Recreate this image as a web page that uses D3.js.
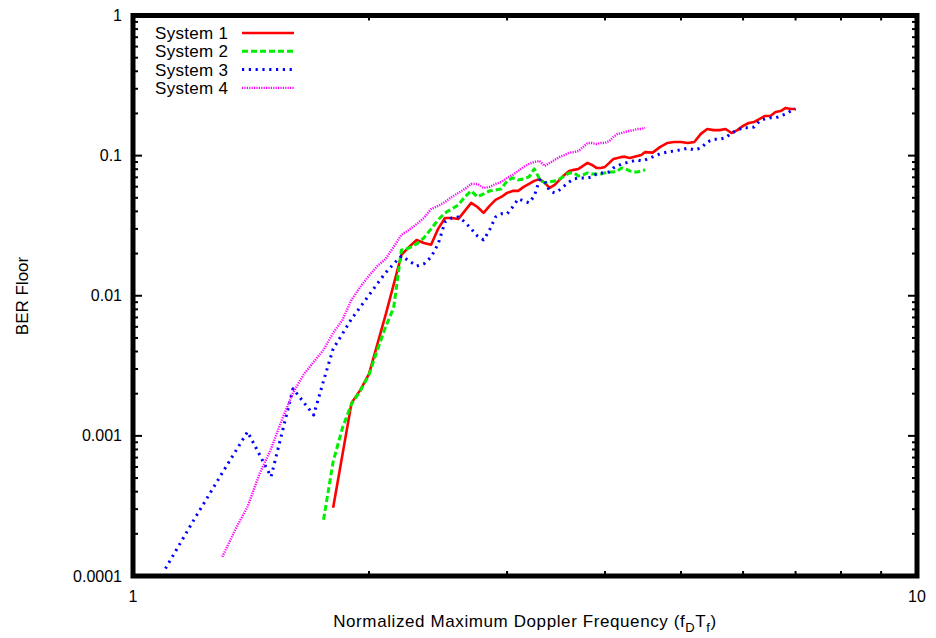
<!DOCTYPE html>
<html>
<head>
<meta charset="utf-8">
<script src="https://cdn.jsdelivr.net/npm/d3@7/dist/d3.min.js"></script>
<style>
  html, body { margin: 0; padding: 0; background: #fff; }
  svg { display: block; font-family: "Liberation Sans", Arial, sans-serif; }
</style>
</head>
<body>
<svg id="chart" width="936" height="638"></svg>
<script>
// BER floor versus normalized maximum Doppler frequency for four systems.
const xTickLabels = ["1", "10"];
const yTickLabels = ["1", "0.1", "0.01", "0.001", "0.0001"];
const seriesNames = ["System 1", "System 2", "System 3", "System 4"];

const sys1X = [1.8, 1.9, 1.95, 2.0, 2.1, 2.15, 2.2, 2.25, 2.3, 2.35, 2.4, 2.45, 2.5, 2.55, 2.6, 2.65, 2.7, 2.75, 2.8, 2.85, 2.9, 2.95, 3.0, 3.05, 3.1, 3.15, 3.2, 3.25, 3.3, 3.35, 3.4, 3.45, 3.5, 3.55, 3.6, 3.65, 3.7, 3.75, 3.8, 3.85, 3.9, 3.95, 4.0, 4.05, 4.1, 4.15, 4.2, 4.25, 4.3, 4.35, 4.4, 4.45, 4.5, 4.6, 4.7, 4.8, 4.9, 5.0, 5.1, 5.2, 5.3, 5.4, 5.5, 5.6, 5.7, 5.8, 5.9, 6.0, 6.1, 6.2, 6.3, 6.4, 6.5, 6.6, 6.7, 6.8, 6.9, 7.0];
const sys1Y = [0.000307, 0.00172, 0.00213, 0.00277, 0.00731, 0.0120, 0.0196, 0.0223, 0.0250, 0.0238, 0.0231, 0.0300, 0.0359, 0.0359, 0.0353, 0.0403, 0.0460, 0.0430, 0.0390, 0.0438, 0.0483, 0.0507, 0.0542, 0.0560, 0.0560, 0.0598, 0.0628, 0.0660, 0.0682, 0.0639, 0.0588, 0.0618, 0.0671, 0.0728, 0.0778, 0.0791, 0.0804, 0.0844, 0.0887, 0.0858, 0.0817, 0.0817, 0.0831, 0.0887, 0.0947, 0.0963, 0.0979, 0.0979, 0.0963, 0.0979, 0.0995, 0.101, 0.106, 0.105, 0.115, 0.123, 0.125, 0.125, 0.123, 0.125, 0.143, 0.155, 0.152, 0.152, 0.155, 0.145, 0.152, 0.163, 0.171, 0.174, 0.183, 0.192, 0.192, 0.205, 0.208, 0.219, 0.215, 0.215];

const sys2X = [1.75, 1.8, 1.85, 1.9, 1.95, 2.0, 2.05, 2.1, 2.15, 2.2, 2.25, 2.3, 2.35, 2.4, 2.45, 2.5, 2.55, 2.6, 2.65, 2.7, 2.75, 2.8, 2.85, 2.9, 2.95, 3.0, 3.05, 3.1, 3.15, 3.2, 3.25, 3.3, 3.35, 3.4, 3.45, 3.5, 3.55, 3.6, 3.65, 3.7, 3.75, 3.8, 3.85, 3.9, 3.95, 4.0, 4.05, 4.1, 4.15, 4.2, 4.25, 4.3, 4.35, 4.4, 4.45, 4.5];
const sys2Y = [0.000252, 0.000653, 0.00114, 0.00169, 0.00210, 0.00273, 0.00411, 0.00600, 0.00820, 0.0212, 0.0219, 0.0234, 0.0259, 0.0300, 0.0348, 0.0390, 0.0416, 0.0445, 0.0507, 0.0560, 0.0507, 0.0533, 0.0560, 0.0569, 0.0579, 0.0660, 0.0693, 0.0671, 0.0682, 0.0705, 0.0804, 0.0682, 0.0639, 0.0649, 0.0660, 0.0682, 0.0716, 0.0753, 0.0753, 0.0716, 0.0728, 0.0753, 0.0740, 0.0740, 0.0740, 0.0753, 0.0765, 0.0765, 0.0778, 0.0817, 0.0804, 0.0778, 0.0765, 0.0765, 0.0778, 0.0791];

const sys3X = [1.1, 1.2, 1.3, 1.4, 1.5, 1.6, 1.7, 1.75, 1.8, 1.85, 1.9, 1.95, 2.0, 2.05, 2.1, 2.15, 2.2, 2.25, 2.3, 2.35, 2.4, 2.45, 2.5, 2.55, 2.6, 2.65, 2.7, 2.75, 2.8, 2.85, 2.9, 2.95, 3.0, 3.05, 3.1, 3.15, 3.2, 3.25, 3.3, 3.35, 3.4, 3.45, 3.5, 3.55, 3.6, 3.65, 3.7, 3.75, 3.8, 3.85, 3.9, 3.95, 4.0, 4.05, 4.1, 4.15, 4.2, 4.25, 4.3, 4.35, 4.4, 4.45, 4.5, 4.6, 4.7, 4.8, 4.9, 5.0, 5.1, 5.2, 5.3, 5.4, 5.5, 5.6, 5.7, 5.8, 5.9, 6.0, 6.1, 6.2, 6.3, 6.4, 6.5, 6.6, 6.7, 6.8, 6.9, 7.0];
const sys3Y = [0.000113, 0.000260, 0.000545, 0.00107, 0.000511, 0.00217, 0.00141, 0.00247, 0.00418, 0.00535, 0.00684, 0.00833, 0.0101, 0.0122, 0.0146, 0.0169, 0.0192, 0.0177, 0.0163, 0.0169, 0.0189, 0.0234, 0.0336, 0.0359, 0.0365, 0.0336, 0.0300, 0.0267, 0.0250, 0.0295, 0.0365, 0.0384, 0.0384, 0.0430, 0.0491, 0.0475, 0.0460, 0.0516, 0.0671, 0.0660, 0.0560, 0.0542, 0.0569, 0.0608, 0.0649, 0.0682, 0.0693, 0.0693, 0.0693, 0.0705, 0.0740, 0.0753, 0.0753, 0.0765, 0.0817, 0.0844, 0.0872, 0.0887, 0.0902, 0.0917, 0.0932, 0.0917, 0.0932, 0.0979, 0.103, 0.106, 0.108, 0.110, 0.113, 0.110, 0.113, 0.125, 0.131, 0.131, 0.134, 0.145, 0.152, 0.158, 0.158, 0.160, 0.177, 0.183, 0.186, 0.186, 0.192, 0.198, 0.208, 0.215];

const sys4X = [1.3, 1.35, 1.4, 1.45, 1.5, 1.55, 1.6, 1.65, 1.7, 1.75, 1.8, 1.85, 1.9, 1.95, 2.0, 2.05, 2.1, 2.15, 2.2, 2.25, 2.3, 2.35, 2.4, 2.45, 2.5, 2.55, 2.6, 2.65, 2.7, 2.75, 2.8, 2.85, 2.9, 2.95, 3.0, 3.05, 3.1, 3.15, 3.2, 3.25, 3.3, 3.35, 3.4, 3.45, 3.5, 3.55, 3.6, 3.65, 3.7, 3.75, 3.8, 3.85, 3.9, 3.95, 4.0, 4.05, 4.1, 4.15, 4.2, 4.25, 4.3, 4.35, 4.4, 4.45, 4.5];
const sys4Y = [0.000137, 0.000214, 0.000312, 0.000536, 0.000809, 0.00132, 0.00203, 0.00273, 0.00337, 0.00411, 0.00543, 0.00673, 0.00935, 0.0116, 0.0139, 0.0163, 0.0183, 0.0223, 0.0272, 0.0295, 0.0325, 0.0359, 0.0416, 0.0438, 0.0467, 0.0507, 0.0542, 0.0579, 0.0628, 0.0628, 0.0588, 0.0598, 0.0628, 0.0649, 0.0693, 0.0728, 0.0778, 0.0831, 0.0872, 0.0902, 0.0917, 0.0844, 0.0887, 0.0932, 0.0979, 0.101, 0.105, 0.106, 0.108, 0.115, 0.123, 0.123, 0.121, 0.123, 0.123, 0.127, 0.136, 0.143, 0.145, 0.148, 0.150, 0.152, 0.155, 0.155, 0.158];

const svg = d3.select("#chart");
const plotLeft = 133, plotRight = 917, plotTop = 15.5, plotBottom = 576;

const x = d3.scaleLog().domain([1, 10]).range([plotLeft, plotRight]);
const y = d3.scaleLog().domain([1e-4, 1]).range([plotBottom, plotTop]);

const series = [
  { name: seriesNames[0], xs: sys1X, ys: sys1Y, color: "#ff0000", width: 2.6, dash: null },
  { name: seriesNames[1], xs: sys2X, ys: sys2Y, color: "#00ee00", width: 3, dash: "6,3" },
  { name: seriesNames[2], xs: sys3X, ys: sys3Y, color: "#0000ff", width: 3, dash: "2.2,4.6" },
  { name: seriesNames[3], xs: sys4X, ys: sys4Y, color: "#ff00ff", width: 2.4, dash: "1.2,1.2" }
];

// Tick marks (drawn inward on all four sides)
const tickG = svg.append("g").attr("stroke", "#000").attr("stroke-width", 2);
const isDecade = v => Math.abs(Math.log10(v) - Math.round(Math.log10(v))) < 1e-9;

x.ticks().forEach(v => {
  const px = x(v);
  const len = isDecade(v) ? 9 : 5;
  tickG.append("line").attr("x1", px).attr("x2", px).attr("y1", plotBottom).attr("y2", plotBottom - len);
  tickG.append("line").attr("x1", px).attr("x2", px).attr("y1", plotTop).attr("y2", plotTop + len);
});
y.ticks().forEach(v => {
  const py = y(v);
  const len = isDecade(v) ? 9 : 5;
  tickG.append("line").attr("y1", py).attr("y2", py).attr("x1", plotLeft).attr("x2", plotLeft + len);
  tickG.append("line").attr("y1", py).attr("y2", py).attr("x1", plotRight).attr("x2", plotRight - len);
});

// Data lines
const line = d3.line().x(d => x(d[0])).y(d => y(d[1]));
const plotG = svg.append("g");
series.forEach(s => {
  const pts = s.xs.map((v, i) => [v, s.ys[i]]);
  plotG.append("path")
    .attr("d", line(pts))
    .attr("fill", "none")
    .attr("stroke", s.color)
    .attr("stroke-width", s.width)
    .attr("stroke-dasharray", s.dash)
    .attr("stroke-linejoin", "round");
});

// Frame
svg.append("rect")
  .attr("x", plotLeft).attr("y", plotTop)
  .attr("width", plotRight - plotLeft).attr("height", plotBottom - plotTop)
  .attr("fill", "none").attr("stroke", "#000").attr("stroke-width", 5);

// Tick labels
const xTickVals = [1, 10];
svg.append("g").selectAll("text").data(xTickVals).join("text")
  .attr("x", d => x(d)).attr("y", 602)
  .attr("text-anchor", "middle").attr("font-size", 16)
  .text((d, i) => xTickLabels[i]);

const yTickVals = [1, 0.1, 0.01, 0.001, 0.0001];
svg.append("g").selectAll("text").data(yTickVals).join("text")
  .attr("x", 122).attr("y", d => y(d)).attr("dy", "0.35em")
  .attr("text-anchor", "end").attr("font-size", 16)
  .text((d, i) => yTickLabels[i]);

// Axis titles
const xt = svg.append("text")
  .attr("x", (plotLeft + plotRight) / 2).attr("y", 627)
  .attr("text-anchor", "middle").attr("font-size", 17)
  .attr("letter-spacing", 0.6);
xt.append("tspan").text("Normalized Maximum Doppler Frequency (f");
xt.append("tspan").attr("font-size", 13).attr("dy", 5).text("D");
xt.append("tspan").attr("dy", -5).text("T");
xt.append("tspan").attr("font-size", 13).attr("dy", 5).text("f");
xt.append("tspan").attr("dy", -5).text(")");

svg.append("text")
  .attr("transform", "translate(28,296) rotate(-90)")
  .attr("text-anchor", "middle").attr("font-size", 17)
  .text("BER Floor");

// Legend
const legG = svg.append("g");
series.forEach((s, i) => {
  const cy = 33 + i * 18.3;
  legG.append("text")
    .attr("x", 155).attr("y", cy).attr("dy", "0.35em")
    .attr("font-size", 17).attr("letter-spacing", 0.3).text(s.name);
  legG.append("line")
    .attr("x1", 242).attr("x2", 294).attr("y1", cy).attr("y2", cy)
    .attr("stroke", s.color).attr("stroke-width", s.width)
    .attr("stroke-dasharray", s.dash);
});
</script>
</body>
</html>
